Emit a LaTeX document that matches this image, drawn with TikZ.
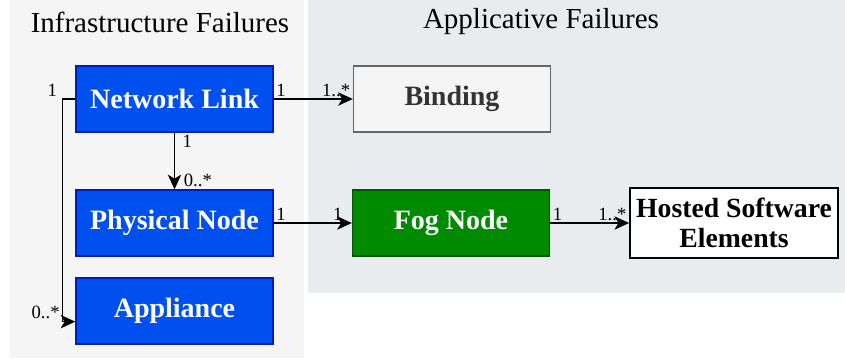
\documentclass[tikz,border=0pt]{standalone}
\usepackage{fontspec}
\setmainfont{Liberation Serif}
\usetikzlibrary{arrows.meta}
\definecolor{infrafill}{RGB}{0,80,239}
\definecolor{infraline}{RGB}{0,29,188}
\definecolor{fogfill}{RGB}{0,138,0}
\definecolor{fogline}{RGB}{0,87,0}
\definecolor{bindfill}{RGB}{245,245,245}
\definecolor{bindline}{RGB}{102,102,102}
\definecolor{bindtext}{RGB}{51,51,51}
\definecolor{leftpanel}{RGB}{245,245,245}
\definecolor{rightpanel}{RGB}{232,236,239}
\begin{document}
\begin{tikzpicture}[x=0.75pt,y=-0.75pt,
  box/.style={draw, line width=1pt, inner sep=0pt, minimum width=147.75pt, minimum height=49.5pt,
    font=\fontsize{21}{23}\selectfont\bfseries},
  infra/.style={box, fill=infrafill, draw=infraline, text=white},
  fog/.style={box, fill=fogfill, draw=fogline, text=white},
  binding/.style={box, fill=bindfill, draw=bindline, text=bindtext},
  hosted/.style={box, fill=white, draw=black, line width=1.3pt, minimum width=156pt,
    minimum height=52.5pt, align=center, font=\fontsize{20.8}{22}\selectfont\bfseries},
  title/.style={font=\fontsize{21.75}{24}\selectfont},
  mult/.style={font=\fontsize{14}{16}\selectfont, inner sep=1.5pt},
  assoc/.style={line width=1.1pt, -{Stealth[length=11pt, width=10pt, inset=3pt]}}]
  \fill[white] (0,0) rectangle (845,358);
  \fill[leftpanel] (10,0) rectangle (304,358);
  \fill[rightpanel] (308,0) rectangle (845,293);
  \node[title] (infratitle) at (160,22) {Infrastructure Failures};
  \node[title] (apptitle) at (541,22) {Applicative Failures};
  \node[infra] (netlink) at (174.5,99) {Network Link};
  \node[infra] (physnode) at (174.5,223) {Physical Node};
  \node[infra] (appliance) at (174.5,311) {Appliance};
  \node[binding] (binding) at (452,99) {Binding};
  \node[fog] (fognode) at (451,223) {Fog Node};
  \node[hosted] (hosted) at (734,223) {Hosted Software\\Elements};
  \draw[assoc] (netlink.east) -- (binding.west)
    node[mult, pos=0, above right] {1} node[mult, pos=1, above left] {1..*};
  \draw[assoc] (netlink.south) -- (physnode.north)
    node[mult, pos=0, below right, xshift=4pt] {1} node[mult, pos=1, above right, xshift=5pt] {0..*};
  \draw[assoc] (netlink.west) -- ++(-13,0) node[mult, above left, xshift=-2pt] {1}
    |- node[mult, pos=0.5, above left] {0..*} ([yshift=-8pt]appliance.west);
  \draw[assoc] (physnode.east) -- (fognode.west)
    node[mult, pos=0, above right] {1} node[mult, pos=1, above left, xshift=-5pt] {1};
  \draw[assoc] (fognode.east) -- (hosted.west)
    node[mult, pos=0, above right] {1} node[mult, pos=1, above left] {1..*};
\end{tikzpicture}
\end{document}
